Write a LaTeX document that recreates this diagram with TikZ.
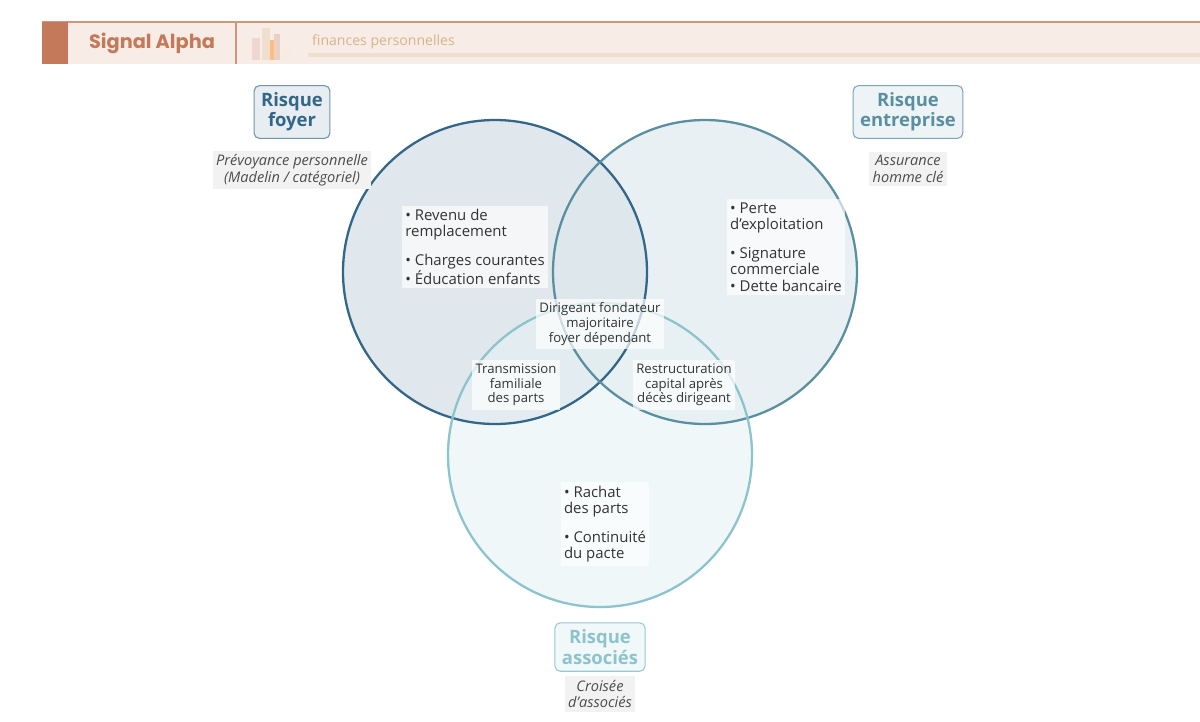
\documentclass[tikz,border=0pt]{standalone}
\usepackage{fontspec}
\setmainfont{Open Sans}
\newfontfamily\poppins{Poppins}
\usetikzlibrary{positioning}
\definecolor{cfoyer}{HTML}{336688}
\definecolor{centre}{HTML}{5A8FA2}
\definecolor{cassoc}{HTML}{8CC3CC}
\definecolor{bandeau}{HTML}{F7ECE6}
\definecolor{brique}{HTML}{C47A5A}
\definecolor{texte}{HTML}{333333}
\begin{document}
\begin{tikzpicture}[x=0.02cm,y=-0.02cm,
    cercle/.style={line width=1.3pt,fill opacity=0.6},
    titre/.style={draw,rounded corners=3pt,line width=0.6pt,align=center,font=\bfseries\fontsize{10.5}{11.5}\selectfont,inner sep=4pt},
    note/.style={fill=black!5,align=center,font=\itshape\fontsize{8.3}{9.5}\selectfont,text=black!70,inner sep=2pt},
    liste/.style={fill=white,fill opacity=0.65,text opacity=1,align=left,font=\fontsize{8.5}{9.3}\selectfont,text=texte,inner sep=2pt},
    inter/.style={fill=white,fill opacity=0.7,text opacity=1,align=center,font=\fontsize{7.5}{8.3}\selectfont,text=texte,inner sep=2pt}]
    \useasboundingbox (0,0) rectangle (1200,721);

    % Bandeau
    \fill[bandeau] (42,22) rectangle (1200,64);
    \draw[brique!80,line width=0.7pt] (42,22) -- (1200,22);
    \fill[brique] (42,22) rectangle (68,64);
    \draw[brique!80,line width=0.7pt] (236,22) -- (236,64);
    \node[font=\poppins\bfseries\fontsize{11}{13}\selectfont,text=brique] (marque) at (152,43) {Signal Alpha};
    \fill[brique!30] (252,38) rectangle (260,60);
    \fill[brown!25] (262,28) rectangle (270,60);
    \fill[orange!50] (270,40) rectangle (274,60);
    \fill[brique!35] (274,34) rectangle (280,60);
    \fill[brown!15] (282,48) rectangle (290,60);
    \node[anchor=west,font=\fontsize{8}{9}\selectfont,text=brown!60] (rubrique) at (306,42) {finances personnelles};
    \fill[brown!25] (308,53) rectangle (1200,57);

    % Cercles
    \fill[cfoyer!25,cercle] (495,272) circle (152);
    \fill[centre!22,cercle] (705,272) circle (152);
    \fill[cassoc!22,cercle] (600,455) circle (152);
    \draw[cfoyer,line width=1.3pt] (495,272) circle (152);
    \draw[centre,line width=1.3pt] (705,272) circle (152);
    \draw[cassoc,line width=1.3pt] (600,455) circle (152);

    % Titres
    \node[titre,draw=cfoyer!70,fill=cfoyer!12,text=cfoyer] (foyer) at (292,112) {Risque\\foyer};
    \node[titre,draw=centre!80,fill=centre!10,text=centre] (entreprise) at (908,112) {Risque\\entreprise};
    \node[titre,draw=cassoc!90,fill=cassoc!12,text=cassoc] (associes) at (600,647) {Risque\\associés};
    \node[note] (nfoyer) at (292,170) {Prévoyance personnelle\\(Madelin / catégoriel)};
    \node[note] (nentreprise) at (908,169) {Assurance\\homme clé};
    \node[note] (nassocies) at (600,694) {Croisée\\d'associés};

    % Contenus
    \node[liste] (lfoyer) at (475,247) {• Revenu de\\remplacement\\[7pt]• Charges courantes\\• Éducation enfants};
    \node[liste] (lentreprise) at (786,247) {• Perte\\d'exploitation\\[7pt]• Signature\\commerciale\\• Dette bancaire};
    \node[liste] (lassocies) at (605,524) {• Rachat\\des parts\\[7pt]• Continuité\\du pacte};
    \node[inter] (centre) at (600,324) {Dirigeant fondateur\\majoritaire\\foyer dépendant};
    \node[inter] (fa) at (516,385) {Transmission\\familiale\\des parts};
    \node[inter] (ea) at (684,385) {Restructuration\\capital après\\décès dirigeant};
\end{tikzpicture}
\end{document}
